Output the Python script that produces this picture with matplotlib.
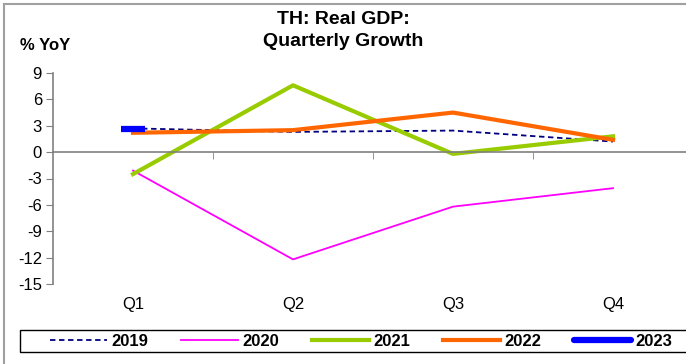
import matplotlib.pyplot as plt
from matplotlib.lines import Line2D
from matplotlib.patches import Rectangle

plt.rcParams['font.family'] = ['Liberation Sans', 'DejaVu Sans']

# --- datos ---
quarters = ['Q1', 'Q2', 'Q3', 'Q4']
y2019 = [2.7, 2.3, 2.45, 1.2]
y2020 = [-2.1, -12.2, -6.2, -4.1]
y2021 = [-2.5, 7.6, -0.2, 1.8]
y2022 = [2.2, 2.5, 4.5, 1.4]
y2023 = [2.6]
y_ticks = [9, 6, 3, 0, -3, -6, -9, -12, -15]

W, H = 686, 364
fig = plt.figure(figsize=(W / 100, H / 100), dpi=100)
ax = fig.add_axes([53 / W, 80 / H, 640 / W, 211 / H])

x = list(range(len(quarters)))
l19, = ax.plot(x, y2019, color='#000080', lw=1.3, ls=(0, (3, 2)), label='2019')
l20, = ax.plot(x, y2020, color='#FF00FF', lw=1.3, label='2020')
l21, = ax.plot(x, y2021, color='#99CC00', lw=3.0, label='2021')
l22, = ax.plot(x, y2022, color='#FF6600', lw=3.0, label='2022')
ax.plot(x[:len(y2023)], y2023, color='#0000FF', ls='none', marker='_', ms=17, mew=4.5)
l23 = Line2D([], [], color='#0000FF', lw=4.5, solid_capstyle='round')

ax.set_xlim(-0.5, 3.5)
ax.set_ylim(-15, 9)
ax.set_yticks(y_ticks)
ax.set_yticklabels([str(v) for v in y_ticks], fontsize=12)
ax.tick_params(axis='y', direction='out', length=5, color='#808080', pad=3)

ax.spines['top'].set_visible(False)
ax.spines['right'].set_visible(False)
ax.spines['left'].set_color('#808080')
ax.spines['bottom'].set_color('#808080')
ax.spines['bottom'].set_position(('data', 0))
ax.spines['left'].set_linewidth(1.2)
ax.spines['bottom'].set_linewidth(1.2)

ax.set_xticks(x)
ax.set_xticklabels(quarters, fontsize=12)
ax.set_xticks([0.5, 1.5, 2.5], minor=True)
ax.tick_params(axis='x', which='major', length=0, pad=104)
ax.tick_params(axis='x', which='minor', direction='out', length=5, color='#808080')

fig.text(343 / W, 1 - 19 / H, 'TH: Real GDP:', ha='center', va='center', fontsize=14, fontweight='bold')
fig.text(343 / W, 1 - 41 / H, 'Quarterly Growth', ha='center', va='center', fontsize=14, fontweight='bold')
fig.text(20 / W, 1 - 45 / H, '% YoY', ha='left', va='center', fontsize=12, fontweight='bold')

# marco exterior
fig.add_artist(Line2D([4 / W, 4 / W], [0, 1 - 4 / H], transform=fig.transFigure, color='#A0A0A0', lw=1.5))
fig.add_artist(Line2D([4 / W, 1], [1 - 4 / H, 1 - 4 / H], transform=fig.transFigure, color='#A0A0A0', lw=1.5))

# caja de la leyenda
fig.add_artist(Rectangle((20 / W, 12 / H), 700 / W, 22 / H, transform=fig.transFigure,
                         facecolor='white', edgecolor='black', lw=1.0))

leg = fig.legend([l19, l20, l21, l22, l23], ['2019', '2020', '2021', '2022', '2023'],
                 loc='center left', bbox_to_anchor=(50 / W, 23 / H),
                 ncol=5, frameon=False, borderaxespad=0, borderpad=0,
                 handlelength=3.4, handletextpad=0.3, columnspacing=1.95,
                 prop={'weight': 'bold', 'size': 12})

fig.savefig('out.png', dpi=100)
